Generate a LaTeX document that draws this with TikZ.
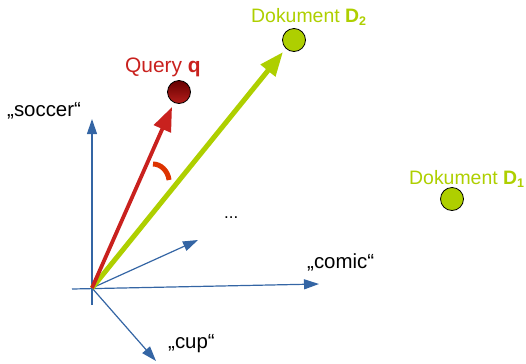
\documentclass[tikz,border=0pt]{standalone}
\usepackage{fontspec}
\setmainfont{Liberation Sans}
\usetikzlibrary{arrows.meta}
\definecolor{axisblue}{HTML}{3465A4}
\definecolor{queryred}{HTML}{C9211E}
\definecolor{docgreen}{HTML}{AECF00}
\definecolor{anglered}{HTML}{DD3300}

\newcommand{\docsub}[1]{\raisebox{-0.35ex}{\fontsize{12.5}{14}\selectfont\textbf{#1}}}

\tikzset{
  axis/.style={axisblue,line width=1.2bp,-{Triangle[length=15bp,width=10bp]}},
  vec/.style={line width=#1,-{Triangle[length=24bp,width=18bp]}},
  doc/.style={circle,draw=black,line width=0.8bp,fill=docgreen,minimum size=23bp,inner sep=0pt},
  lbl/.style={anchor=base west,inner sep=0pt,font=\fontsize{20.5}{24}\selectfont},
  doclbl/.style={lbl,docgreen,font=\fontsize{19.5}{23}\selectfont}
}

\begin{document}
\begin{tikzpicture}[x=1bp,y=-1bp]
		\useasboundingbox (0,0) rectangle (526,363);
		% origin and axis ends
		\coordinate (O) at (92,288);
		\coordinate (soccer) at (92,119);
		\coordinate (comic) at (319,284);
		\coordinate (cup) at (156,361);
		\coordinate (more) at (198,240);
		\coordinate (xstart) at (72,289);
		\coordinate (ystart) at (92,305);
		% axes
		\draw[axisblue,line width=1.2bp] (ystart) -- (O);
		\draw[axis] (O) -- (soccer);
		\draw[axis] (xstart) -- (comic);
		\draw[axis] (O) -- (cup);
		\draw[axis] (O) -- (more);
		\node[lbl] (soccerlbl) at (7,116) {„soccer“};
		\node[lbl] (comiclbl) at (307,268) {„comic“};
		\node[lbl] (cuplbl) at (168,348) {„cup“};
		\node[lbl,font=\fontsize{17}{20}\selectfont] (dots) at (224,218) {...};
		% query and documents
		\node[circle,draw=black,line width=0.8bp,top color=red!40!black,bottom color=queryred!90!black,minimum size=23bp,inner sep=0pt] (q) at (179,92) {};
		\node[doc] (dtwo) at (294,40) {};
		\node[doc] (done) at (452,199) {};
		\node[lbl,queryred,font=\fontsize{21}{24}\selectfont] (qlbl) at (125,72) {Query \textbf{q}};
		\node[doclbl] (dtwolbl) at (251,22) {Dokument \textbf{D}\docsub{2}};
		\node[doclbl] (donelbl) at (409,184) {Dokument \textbf{D}\docsub{1}};
		% vectors
		\coordinate (qtip) at (172,107);
		\coordinate (dtip) at (283,52);
		\draw[vec=5bp,docgreen] (O) -- (dtip);
		\draw[vec=3.8bp,queryred] (O) -- (qtip);
		% angle between q and D2
		\coordinate (a1) at (153,164);
		\coordinate (a2) at (169,180);
		\draw[anglered,line width=5bp] (a1) .. controls (161,164) and (168,171) .. (a2);
\end{tikzpicture}
\end{document}
